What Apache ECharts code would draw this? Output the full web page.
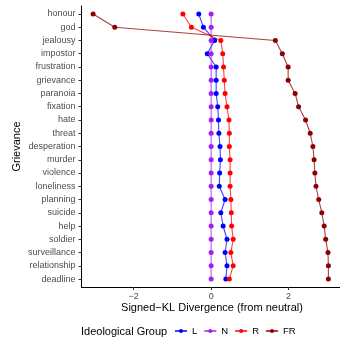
<!DOCTYPE html>
<html>
<head>
<meta charset="utf-8">
<script src="https://cdn.jsdelivr.net/npm/echarts@6/dist/echarts.min.js"></script>
<style>
html,body{margin:0;padding:0;background:#fff;}
#chart{width:340px;height:343px;}
</style>
</head>
<body>
<div id="chart"></div>
<script>
// grievance words, top to bottom
var categories = ['honour','god','jealousy','impostor','frustration','grievance','paranoia','fixation','hate','threat','desperation','murder','violence','loneliness','planning','suicide','help','soldier','surveillance','relationship','deadline'];
var groups = ['L','N','R','FR'];
var valuesL = [-0.32,-0.20,0.09,-0.10,0.13,0.13,0.13,0.17,0.19,0.20,0.23,0.24,0.22,0.21,0.36,0.25,0.31,0.41,0.36,0.41,0.38];
var valuesN = [0,0,0,0,0,0,0,0,0,0,0,0,0,0,0,0,0,0,0,0,0];
var valuesR = [-0.73,-0.51,0.25,0.30,0.32,0.34,0.36,0.41,0.46,0.47,0.47,0.49,0.49,0.49,0.51,0.52,0.53,0.57,0.51,0.57,0.47];
var valuesFR = [-3.05,-2.49,1.66,1.84,1.99,1.99,2.17,2.26,2.44,2.56,2.63,2.66,2.68,2.71,2.78,2.86,2.92,2.96,3.02,3.03,3.03];
var xTicks = [-2,0,2];
var colors = {L:'#0000FF',N:'#A020F0',R:'#FF0000',FR:'#8B0000'};

var chart = echarts.init(document.getElementById('chart'));

//把数值和类别配对
function makeData(vals){
  var out = [];
  for(var i=0;i<vals.length;i++){
    out.push([vals[i], i]);
  }
  return out;
}

function makeSeries(name, vals){
  return {
    name: name,
    type: 'line',
    data: makeData(vals),
    symbol: 'circle',
    symbolSize: 5,
    itemStyle: {color: colors[name]},
    lineStyle: {color: colors[name], width: 1.1, opacity: 0.75},
    emphasis: {disabled: true}
  };
}

var yTicks = [];
for(var k=0;k<categories.length;k++) yTicks.push(k);

var option = {
  animation: false,
  grid: {left: 81.5, right: -4, top: 6, bottom: 56, containLabel: false},
  xAxis: {
    type: 'value',
    min: -3.35,
    max: 3.33,
    splitLine: {show: false},
    axisLine: {onZero: false, lineStyle: {color: '#000', width: 1}},
    axisTick: {show: true, length: 3, customValues: xTicks, lineStyle: {color: '#333'}},
    axisLabel: {customValues: xTicks, color: '#4d4d4d', fontSize: 9, margin: 5, fontFamily: 'Liberation Sans',
      formatter: function(v){ return v < 0 ? '\u2212' + Math.abs(v) : String(v); }}
  },
  yAxis: {
    type: 'value',
    inverse: true,
    min: -0.6,
    max: categories.length - 0.4,
    splitLine: {show: false},
    axisLine: {show: true, onZero: false, lineStyle: {color: '#000', width: 1}},
    axisTick: {show: true, length: 3, customValues: yTicks, lineStyle: {color: '#333'}},
    axisLabel: {customValues: yTicks, color: '#4d4d4d', fontSize: 9, margin: 6, fontFamily: 'Liberation Sans',
      formatter: function(v){ return categories[v]; }}
  },
  legend: {
    data: groups,
    left: 174,
    top: 326,
    padding: 0,
    itemWidth: 12,
    itemHeight: 5,
    itemGap: 6,
    textStyle: {fontSize: 9.5, color: '#000', fontFamily: 'Liberation Sans'}
  },
  graphic: [
    {type: 'text', x: 81, y: 332, style: {text: 'Ideological Group', fontSize: 11, fill: '#000', fontFamily: 'Liberation Sans', verticalAlign: 'middle'}},
    {type: 'text', x: 212, y: 308, style: {text: 'Signed\u2212KL Divergence (from neutral)', fontSize: 11, fill: '#000', fontFamily: 'Liberation Sans', align: 'center', verticalAlign: 'middle'}},
    {type: 'text', x: 17, y: 146.5, rotation: Math.PI/2, style: {text: 'Grievance', fontSize: 11, fill: '#000', fontFamily: 'Liberation Sans', align: 'center', verticalAlign: 'middle'}}
  ],
  series: [
    makeSeries('L', valuesL),
    makeSeries('N', valuesN),
    makeSeries('R', valuesR),
    makeSeries('FR', valuesFR)
  ]
};
chart.setOption(option);
</script>
</body>
</html>
